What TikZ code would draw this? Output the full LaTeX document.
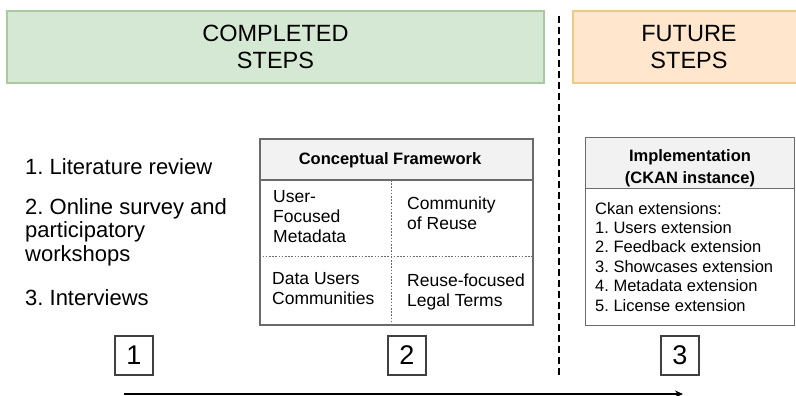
\documentclass[tikz,border=0pt]{standalone}
\usepackage{fontspec}
\setmainfont{Liberation Sans}
\usepackage{tikz}
\usetikzlibrary{arrows.meta,positioning}
\frenchspacing
\definecolor{donefill}{HTML}{D5E8D4}
\definecolor{donedraw}{HTML}{A9C9A1}
\definecolor{nextfill}{HTML}{FFE6CC}
\definecolor{nextdraw}{HTML}{EBCB85}
\definecolor{paneldraw}{HTML}{6B6B6B}
\definecolor{headfill}{HTML}{F2F2F2}
\tikzset{
    myphase/.style={line width=1.2pt,align=center,inner sep=0pt,
        font=\fontsize{23.5}{27}\selectfont},
    mypanel/.style={draw=paneldraw,line width=1.3pt,inner sep=0pt},
    myhead/.style={mypanel,fill=headfill},
    mysep/.style={draw=paneldraw,line width=0.9pt,dash pattern=on 1.6pt off 1.6pt},
    mytext/.style={anchor=north west,align=left,inner sep=0pt},
    mystep/.style={draw=black!75,line width=1.2pt,minimum width=38pt,minimum height=39pt,
        inner sep=0pt,font=\fontsize{27}{27}\selectfont}
}

\begin{document}
\begin{tikzpicture}[x=1pt,y=-1pt]
  \useasboundingbox (0,0) rectangle (796,396);

  % phase banners and the split between them
  \node[myphase,fill=donefill,draw=donedraw,minimum width=537pt,minimum height=72pt]
    (done) at (275.5,47) {COMPLETED\\STEPS};
  \node[myphase,fill=nextfill,draw=nextdraw,minimum width=232pt,minimum height=72pt]
    (next) at (689,47) {FUTURE\\STEPS};
  \coordinate (splittop) at (559,16);
  \coordinate (splitbot) at (559,377);
  \draw[line width=2.4pt,dash pattern=on 7pt off 4pt] (splittop)--(splitbot);

  % step 1: methods
  \node[mytext,font=\fontsize{22}{23.5}\selectfont] (lit) at (25,158.8) {1. Literature review};
  \node[mytext,font=\fontsize{22}{23.5}\selectfont] (survey) at (25,198)
    {2. Online survey and\\participatory\\workshops};
  \node[mytext,font=\fontsize{22}{23.5}\selectfont] (interv) at (25,289) {3. Interviews};

  % step 2: framework grid
  \node[mypanel,minimum width=273pt,minimum height=186pt] (frame) at (396.5,232) {};
  \node[myhead,minimum width=273pt,minimum height=41pt,anchor=north] (framehead) at (frame.north) {};
  \node[anchor=base,inner sep=0pt,font=\bfseries\fontsize{16.5}{19}\selectfont] (frametitle)
    at (390,164.2) {Conceptual Framework};
  \coordinate (colsplit) at (391,180);
  \coordinate (rowsplit) at (396.5,256);
  \draw[mysep] (colsplit)--(colsplit |- frame.south);
  \draw[mysep] (frame.west |- rowsplit)--(frame.east |- rowsplit);
  \begin{scope}[every node/.style={mytext,font=\fontsize{17.5}{20}\selectfont}]
    \node (meta) at (273,190.4) {User-\\Focused\\Metadata};
    \node (reuse) at (407,197) {Community\\of Reuse};
    \node (users) at (272,272) {Data Users\\Communities};
    \node (legal) at (407,274) {Reuse-focused\\Legal Terms};
  \end{scope}

  % step 3: implementation
  \node[mypanel,minimum width=209pt,minimum height=188pt,anchor=north west] (impl) at (585,137) {};
  \node[myhead,minimum width=209pt,minimum height=51pt,anchor=north] (implhead) at (impl.north) {};
  \node[align=center,inner sep=0pt,font=\bfseries\fontsize{16.5}{21.5}\selectfont] (impltitle)
    at (690,168) {Implementation\\(CKAN instance)};
  \node[mytext,font=\fontsize{16.5}{19.4}\selectfont] (exts) at (595,202)
    {Ckan extensions:\\1. Users extension\\2. Feedback extension\\3. Showcases extension\\4. Metadata extension\\5. License extension};

  % step numbers and timeline
  \foreach \n/\x in {1/134,2/407,3/680}
    \node[mystep] (step\n) at (\x,355.5) {\n};
  \coordinate (timestart) at (124,394);
  \coordinate (timeend) at (683,394);
  \draw[-{Stealth[length=8pt,width=7pt]},line width=1.5pt] (timestart)--(timeend);
\end{tikzpicture}
\end{document}
